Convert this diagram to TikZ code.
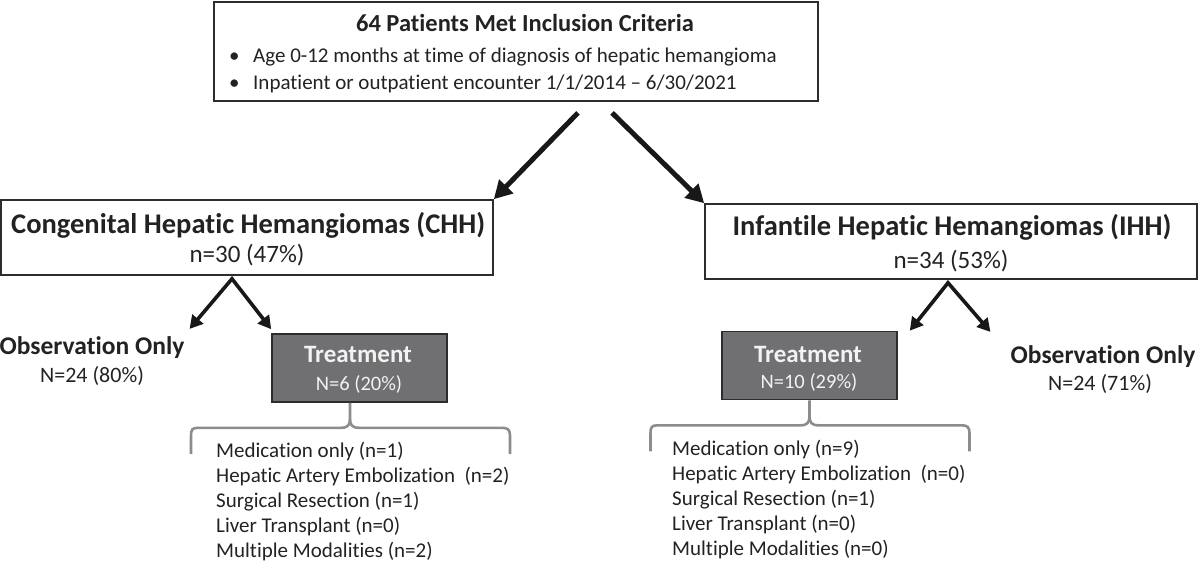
\documentclass[tikz,border=0pt]{standalone}
\usepackage{fontspec}
\setmainfont{Carlito}[Ligatures={TeX,NoCommon}]
\usepackage{xcolor}
\usepackage{tikz}
\usetikzlibrary{arrows.meta,positioning,calc}
\definecolor{FlowInk}{RGB}{34,34,34}
\definecolor{FlowLine}{RGB}{45,45,45}
\definecolor{ArrowInk}{RGB}{24,24,24}
\definecolor{TreatGray}{RGB}{112,112,114}
\definecolor{TreatText}{RGB}{242,242,242}
\definecolor{BraceGray}{RGB}{140,140,140}

\begin{document}
\begin{tikzpicture}[x=1pt,y=-1pt,every node/.style={inner sep=0pt,text=FlowInk}]
\tikzset{cohort/.style={draw=FlowLine,line width=1.6pt,minimum height=75pt},
treatbox/.style={draw=FlowLine,line width=1.6pt,fill=TreatGray,minimum width=175pt,minimum height=68pt},
bighead/.style={font=\fontsize{28.5}{32}\selectfont\bfseries,anchor=base},
counttext/.style={font=\fontsize{25}{28}\selectfont,anchor=base},
obshead/.style={font=\fontsize{25.5}{30}\selectfont\bfseries,anchor=base},
obscount/.style={font=\fontsize{22}{26}\selectfont,anchor=base},
treathead/.style={font=\fontsize{25}{30}\selectfont\bfseries,anchor=base,text=TreatText},
treatcount/.style={font=\fontsize{20.5}{24}\selectfont,anchor=base,text=TreatText},
itemtext/.style={font=\fontsize{21}{25}\selectfont,anchor=base west},
bigarrow/.style={-{Triangle[length=18pt,width=19pt]},line width=5pt,draw=ArrowInk},
splitarrow/.style={{Triangle[length=13pt,width=14pt]}-{Triangle[length=13pt,width=14pt]},line width=3.6pt,draw=ArrowInk,line join=miter},
gbrace/.pic={
\draw[BraceGray,line width=2.6pt] (0,0) -- (0,16) .. controls (0,22) and (-2,25) .. (-9,25) -- (-152,25) .. controls (-158,25) and (-159,27) .. (-159,33) -- (-159,51);
\draw[BraceGray,line width=2.6pt] (0,16) .. controls (0,22) and (2,25) .. (9,25) -- (152,25) .. controls (158,25) and (160,27) .. (160,33) -- (160,51);}}
\useasboundingbox (0,0) rectangle (1200,560);
% inclusion box
\node[cohort,minimum width=604pt,minimum height=99pt] (incl) at (516,51.5) {};
\node[bighead,font=\fontsize{24.5}{30}\selectfont\bfseries] (incltitle) at (525,31) {64 Patients Met Inclusion Criteria};
\node[itemtext] (inclage) at (229,62) {\makebox[24pt][l]{\textbullet}Age 0-12 months at time of diagnosis of hepatic hemangioma};
\node[itemtext] (inclvisit) at (229,89) {\makebox[24pt][l]{\textbullet}Inpatient or outpatient encounter 1/1/2014 -- 6/30/2021};
% the two cohorts
\node[cohort,minimum width=492pt] (chh) at (247,237.5) {};
\node[bighead,anchor=base west] (chhtitle) at (11,233) {Congenital Hepatic Hemangiomas (CHH)};
\node[counttext] (chhn) at (247,262) {n=30 (47\%)};
\node[cohort,minimum width=492pt] (ihh) at (951,241.5) {};
\node[bighead] (ihhtitle) at (952,235) {Infantile Hepatic Hemangiomas (IHH)};
\node[counttext] (ihhn) at (951,268) {n=34 (53\%)};
\draw[bigarrow] ([xshift=62pt,yshift=-11pt]incl.south) -- (chh.north east);
\draw[bigarrow] ([xshift=96pt,yshift=-11pt]incl.south) -- (ihh.north west);
% CHH branch
\node[obshead] (obsL) at (92,354) {Observation Only};
\node[obscount] (obsLn) at (92,382) {N=24 (80\%)};
\node[treatbox] (treatL) at (359.5,368) {};
\node[treathead] (treatLtitle) at (358,362) {Treatment};
\node[treatcount] (treatLn) at (359,390) {N=6 (20\%)};
\draw[splitarrow] ([xshift=5pt,yshift=7pt]obsL.north east) -- ([xshift=-15pt,yshift=-3pt]chh.south) -- ([yshift=4pt]treatL.north west);
\pic at ([xshift=-9.5pt]treatL.south) {gbrace};
\foreach \itm [count=\k] in {Medication only (n=1),Hepatic Artery Embolization~~(n=2),Surgical Resection (n=1),Liver Transplant (n=0),Multiple Modalities (n=2)}
  \node[itemtext] (listL\k) at (216,432+25*\k) {\itm};
% IHH branch
\node[treatbox] (treatR) at (809.5,365.5) {};
\node[treathead] (treatRtitle) at (808,362) {Treatment};
\node[treatcount] (treatRn) at (809,388) {N=10 (29\%)};
\node[obshead] (obsR) at (1103,363) {Observation Only};
\node[obscount] (obsRn) at (1100,390) {N=24 (71\%)};
\draw[splitarrow] ([xshift=12pt]treatR.north east) -- ([xshift=-3pt,yshift=-3pt]ihh.south) -- ([xshift=-20pt,yshift=13pt]obsR.north west);
\pic at (treatR.south) {gbrace};
\foreach \itm [count=\k] in {Medication only (n=9),Hepatic Artery Embolization~~(n=0),Surgical Resection (n=1),Liver Transplant (n=0),Multiple Modalities (n=0)}
  \node[itemtext] (listR\k) at (672,430+25*\k) {\itm};
\end{tikzpicture}
\end{document}
